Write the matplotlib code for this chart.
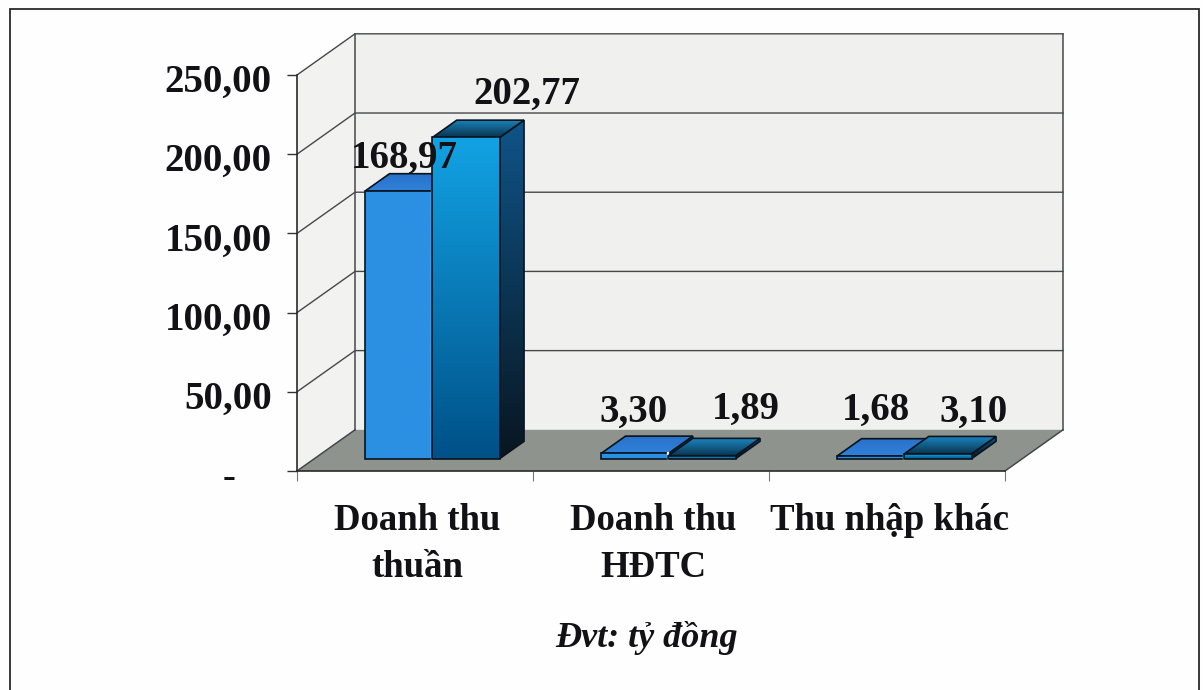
import numpy as np
import matplotlib
matplotlib.use("Agg")
import matplotlib.pyplot as plt
from matplotlib.patches import Polygon, Rectangle
from matplotlib.colors import LinearSegmentedColormap
from matplotlib.transforms import ScaledTranslation

categories = ["Doanh thu\nthuần", "Doanh thu\nHĐTC", "Thu nhập khác"]
series_a = [168.97, 3.30, 1.68]
series_b = [202.77, 1.89, 3.10]
value_labels_a = ["168,97", "3,30", "1,68"]
value_labels_b = ["202,77", "1,89", "3,10"]
y_ticks = [0, 50, 100, 150, 200, 250]
y_tick_labels = ["-", "50,00", "100,00", "150,00", "200,00", "250,00"]
unit_label = "Đvt: tỷ đồng"

# label offsets from the bar top, in pixels (placed by hand in the original)
offsets_a = [(6, 33), (-1, 41), (5, 46)]
offsets_b = [(61, 43), (44, 46), (36, 41)]

W, H = 1203, 690
TEXT = "#121216"
DEPTH_X = 0.2458   # depth of the box in category units
DEPTH_Y = 26.0     # depth of the box in value units
BAR_W = 0.285
D0, D1 = 0.30, 0.72  # where bars sit inside the depth

plt.rcParams["font.family"] = ["Liberation Serif", "DejaVu Serif"]

fig = plt.figure(figsize=(W / 100, H / 100), dpi=100, facecolor="#fefefe")
ax = fig.add_axes([297 / W, 1 - 471 / H, 708 / W, 396 / H])
ax.set_xlim(0, 3)
ax.set_ylim(0, 250)
ax.patch.set_visible(False)


def pt(x, y, d=0.0):
    return (x + d * DEPTH_X, y + d * DEPTH_Y)


def poly(points, **kw):
    p = Polygon(points, closed=True, clip_on=False, **kw)
    ax.add_patch(p)
    return p


def gradient(points, c_start, c_end, z):
    # fills a polygon with a vertical gradient, clipped to the shape
    xs, ys = zip(*points)
    cmap = LinearSegmentedColormap.from_list("g", [c_end, c_start])
    grad = np.linspace(0, 1, 128).reshape(-1, 1)
    im = ax.imshow(grad, extent=(min(xs), max(xs), min(ys), max(ys)), origin="lower",
                   cmap=cmap, aspect="auto", zorder=z, clip_on=True)
    outline = poly(points, facecolor="none", edgecolor="#08141e", linewidth=1.2, zorder=z + 0.1)
    im.set_clip_path(outline)


def draw_bar(x, val, front, top, side, z):
    x0, x1 = x, x + BAR_W
    f = [pt(x0, 0, D0), pt(x1, 0, D0), pt(x1, val, D0), pt(x0, val, D0)]
    s = [pt(x1, 0, D0), pt(x1, 0, D1), pt(x1, val, D1), pt(x1, val, D0)]
    t = [pt(x0, val, D0), pt(x1, val, D0), pt(x1, val, D1), pt(x0, val, D1)]
    gradient(s, side[0], side[1], z)
    gradient(t, top[0], top[1], z + 0.2)
    gradient(f, front[0], front[1], z + 0.4)


# box walls and floor
wall = "#f0f0ee"
poly([pt(0, 0), pt(0, 250), pt(0, 250, 1), pt(0, 0, 1)], facecolor="#f2f2f0", edgecolor="none", zorder=1)
poly([pt(0, 0, 1), pt(3, 0, 1), pt(3, 250, 1), pt(0, 250, 1)], facecolor=wall, edgecolor="none", zorder=1)
poly([pt(0, 0), pt(3, 0), pt(3, 0, 1), pt(0, 0, 1)], facecolor="#8f938d", edgecolor="none", zorder=1.5)

for v in y_ticks[1:]:
    a, b, c = pt(0, v), pt(0, v, 1), pt(3, v, 1)
    ax.plot([a[0], b[0], c[0]], [a[1], b[1], c[1]], color="#45484a", lw=1.0, clip_on=False, zorder=2)
for seg in ([pt(0, 0), pt(0, 0, 1)], [pt(3, 0), pt(3, 0, 1)],
            [pt(0, 0, 1), pt(0, 250, 1)], [pt(3, 0, 1), pt(3, 250, 1)]):
    ax.plot(*zip(*seg), color="#45484a", lw=1.1, clip_on=False, zorder=2)

# bars
for i in range(len(categories)):
    x_left = i + 0.5 - BAR_W
    draw_bar(x_left, series_a[i], ("#2b90e2", "#2b90e2"), ("#2a70c8", "#2f82da"),
             ("#1d5ea6", "#123f70"), 3 + i)
    ax.plot(*zip(pt(x_left + BAR_W, 0, D0), pt(x_left + BAR_W, series_a[i], D0)),
            color="#e8f4fb", lw=1.6, zorder=3.6 + i, clip_on=False)
    draw_bar(x_left + BAR_W, series_b[i], ("#12a2e4", "#005188"), ("#1a86c0", "#0a3550"),
             ("#0f5488", "#081620"), 4 + i)

# value labels
for vals, labs, offs, shift in ((series_a, value_labels_a, offsets_a, 0),
                                (series_b, value_labels_b, offsets_b, 1)):
    for i in range(len(categories)):
        x_c = i + 0.5 - BAR_W + BAR_W * (shift + 0.5)
        ax.annotate(labs[i], xy=pt(x_c, vals[i], D0), xycoords="data",
                    xytext=(offs[i][0] * 0.72, offs[i][1] * 0.72), textcoords="offset points",
                    ha="center", va="center", fontsize=28, fontweight="bold",
                    color=TEXT, zorder=20, annotation_clip=False)

# axes
ax.set_yticks(y_ticks)
ax.set_yticklabels(y_tick_labels, fontsize=28, fontweight="bold", color=TEXT)
ax.tick_params(axis="y", length=7, width=1.0, pad=11, color="#333333")
ax.set_xticks([i + 0.5 for i in range(len(categories))])
ax.set_xticklabels(categories, fontsize=26.5, fontweight="bold", color=TEXT, linespacing=1.45)
ax.tick_params(axis="x", which="major", length=0, pad=23)
ax.set_xticks(range(len(categories) + 1), minor=True)
ax.tick_params(axis="x", which="minor", length=7, width=0.8, color="#777777")
for name in ("top", "right"):
    ax.spines[name].set_visible(False)
for name in ("left", "bottom"):
    ax.spines[name].set_color("#2a2a2a")
    ax.spines[name].set_linewidth(1.2)
    ax.spines[name].set_zorder(2.5)

ax.set_xlim(0, 3)
ax.set_ylim(0, 250)

# tick labels sit a little below their ticks, the dash for zero is centred in the column
for tick_label in ax.get_yticklabels():
    dx = -37 if tick_label.get_text() == "-" else 0
    tick_label.set_transform(tick_label.get_transform()
                             + ScaledTranslation(dx / 100, -3 / 100, fig.dpi_scale_trans))
for tick_label in ax.get_xticklabels():
    tick_label.set_transform(tick_label.get_transform()
                             + ScaledTranslation(2 / 100, 0, fig.dpi_scale_trans))

fig.text(647 / W, 1 - 638 / H, unit_label, ha="center", va="center", fontsize=26,
         style="italic", fontweight="bold", color=TEXT)

# outer frame, the bottom edge runs off the picture
fig.add_artist(Rectangle((10 / W, -10 / H), 1189 / W, 691 / H, transform=fig.transFigure,
                         fill=False, edgecolor="#2a2a2a", linewidth=1.3))

fig.savefig("out.png", dpi=100, facecolor=fig.get_facecolor())
